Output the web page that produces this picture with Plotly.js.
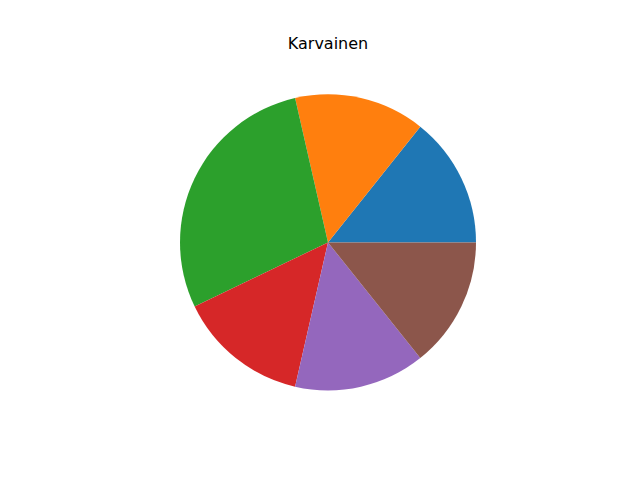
<!DOCTYPE html>
<html>
<head>
<meta charset="utf-8">
<script src="https://cdn.plot.ly/plotly-3.0.1.min.js"></script>
<style>html,body{margin:0;padding:0;background:#fff;}#chart{width:640px;height:480px;}</style>
</head>
<body>
<div id="chart"></div>
<script>
const labels = ["A", "B", "C", "D", "E", "F"];
const values = [1, 1, 2, 1, 1, 1];
const colors = ["#1f77b4", "#ff7f0e", "#2ca02c", "#d62728", "#9467bd", "#8c564b"];
const titleText = "Karvainen";

const trace = {
  type: "pie",
  labels: labels,
  values: values,
  sort: false,
  direction: "counterclockwise",
  rotation: 90 - 360 / 7,
  textinfo: "none",
  hoverinfo: "label+value",
  marker: {colors: colors, line: {width: 0}},
  domain: {x: [0.28125, 0.74375], y: [0.18667, 0.80333]},
  showlegend: false
};

const layout = {
  width: 640,
  height: 480,
  margin: {l: 0, r: 0, t: 0, b: 0},
  paper_bgcolor: "#fff",
  plot_bgcolor: "#fff",
  title: {
    text: titleText,
    font: {family: "DejaVu Sans", size: 16, color: "#000"},
    x: 328/640, xref: "paper", xanchor: "center",
    y: 1 - 43/480, yref: "container", yanchor: "middle"
  },
  showlegend: false
};

Plotly.newPlot("chart", [trace], layout, {staticPlot: true});
</script>
</body>
</html>
